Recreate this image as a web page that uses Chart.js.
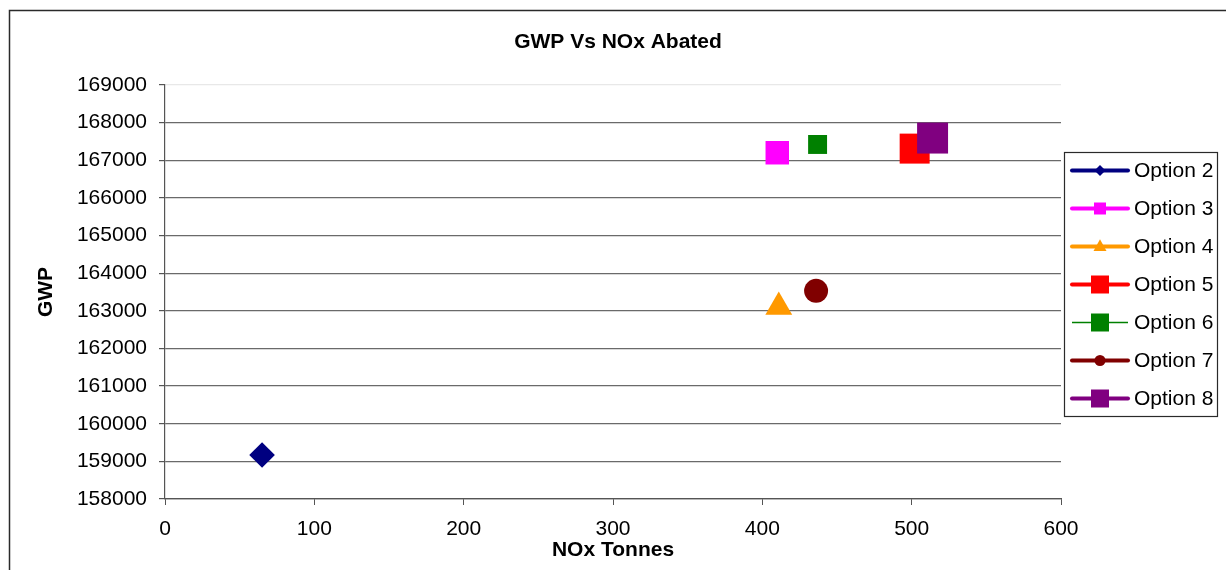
<!DOCTYPE html>
<html>
<head>
<meta charset="utf-8">
<title>GWP Vs NOx Abated</title>
<script src="https://cdn.jsdelivr.net/npm/chart.js@4/dist/chart.umd.min.js"></script>
<style>
  html, body { margin: 0; padding: 0; background: #ffffff; }
  #wrap { width: 1226px; height: 570px; position: relative; }
</style>
</head>
<body>
<div id="wrap"><canvas id="c" width="1226" height="570"></canvas></div>
<script>
// ---- data ----
const chartTitle = 'GWP Vs NOx Abated';
const xTitle = 'NOx Tonnes';
const yTitle = 'GWP';
const optionNames = ['Option 2', 'Option 3', 'Option 4', 'Option 5', 'Option 6', 'Option 7', 'Option 8'];
const noxTonnes = [65, 410, 411, 502, 437, 436, 514];
const gwpValues = [159170, 167200, 163100, 167310, 167420, 163530, 167590];
const xTicks = [0, 100, 200, 300, 400, 500, 600];
const yTicks = [158000, 159000, 160000, 161000, 162000, 163000, 164000, 165000, 166000, 167000, 168000, 169000];

// ---- styles ----
const colors = ['#000080', '#FF00FF', '#FF9900', '#FF0000', '#008000', '#800000', '#800080'];
const shapes = ['rectRot', 'rect', 'triangle', 'rect', 'rect', 'circle', 'rect'];
const radii = [12.8, 16.6, 15.5, 21.2, 13.4, 12, 21.9];
const legendLineWidths = [4, 4, 4, 4, 1.5, 4, 4];
const legendMarkerSizes = [11, 12, 13, 18, 18, 11, 18];
const FONT = "'Liberation Sans', Arial, sans-serif";

// later series are painted over earlier ones
const datasets = optionNames.map((name, i) => ({
  label: name,
  data: [{ x: noxTonnes[i], y: gwpValues[i] }],
  backgroundColor: colors[i],
  borderColor: colors[i],
  borderWidth: 0,
  pointStyle: shapes[i],
  pointRadius: radii[i],
  pointHoverRadius: radii[i],
  pointBorderWidth: 0,
  showLine: false,
  order: optionNames.length - 1 - i
}));

function drawMarker(ctx, shape, x, y, size, color) {
  const h = size / 2;
  ctx.fillStyle = color;
  ctx.beginPath();
  if (shape === 'rect') {
    ctx.rect(x - h, y - h, size, size);
  } else if (shape === 'rectRot') {
    ctx.moveTo(x, y - h); ctx.lineTo(x + h, y); ctx.lineTo(x, y + h); ctx.lineTo(x - h, y);
    ctx.closePath();
  } else if (shape === 'triangle') {
    ctx.moveTo(x, y - h * 1.1); ctx.lineTo(x + h, y + h * 0.7); ctx.lineTo(x - h, y + h * 0.7);
    ctx.closePath();
  } else {
    ctx.arc(x, y, h, 0, Math.PI * 2);
  }
  ctx.fill();
}

// white page with the outer frame
const framePlugin = {
  id: 'frame',
  beforeDraw(chart) {
    const ctx = chart.ctx;
    ctx.save();
    ctx.fillStyle = '#ffffff';
    ctx.fillRect(0, 0, chart.width, chart.height);
    ctx.strokeStyle = '#2a2a2a';
    ctx.lineWidth = 1.5;
    ctx.strokeRect(9.5, 10.5, chart.width + 20, chart.height + 20);
    ctx.restore();
  }
};

// title text above the plot
const titlePlugin = {
  id: 'plotTitle',
  afterDraw(chart) {
    const ctx = chart.ctx;
    ctx.save();
    ctx.font = 'bold 21px ' + FONT;
    ctx.fillStyle = '#000000';
    ctx.textAlign = 'center';
    ctx.textBaseline = 'middle';
    ctx.fillText(chartTitle, 618, 42);
    ctx.restore();
  }
};

// line-and-marker legend box on the right
const legendPlugin = {
  id: 'sideLegend',
  afterDraw(chart) {
    const ctx = chart.ctx;
    const left = 1064.5, top = 152.5, w = 153, h = 264, rowH = 38, firstRow = 170.5;
    ctx.save();
    ctx.fillStyle = '#ffffff';
    ctx.fillRect(left, top, w, h);
    ctx.strokeStyle = '#2a2a2a';
    ctx.lineWidth = 1.2;
    ctx.strokeRect(left, top, w, h);
    chart.data.datasets.forEach((ds, i) => {
      const y = firstRow + i * rowH;
      ctx.strokeStyle = colors[i];
      ctx.lineWidth = legendLineWidths[i];
      ctx.lineCap = legendLineWidths[i] > 2 ? 'round' : 'butt';
      ctx.beginPath();
      ctx.moveTo(1072, y);
      ctx.lineTo(1128, y);
      ctx.stroke();
      drawMarker(ctx, shapes[i], 1100, y, legendMarkerSizes[i], colors[i]);
      ctx.font = '21px ' + FONT;
      ctx.fillStyle = '#000000';
      ctx.textAlign = 'left';
      ctx.textBaseline = 'middle';
      ctx.fillText(ds.label, 1134, y + 1);
    });
    ctx.restore();
  }
};

new Chart(document.getElementById('c'), {
  type: 'scatter',
  data: { datasets },
  plugins: [framePlugin, titlePlugin, legendPlugin],
  options: {
    responsive: false,
    animation: false,
    events: [],
    layout: { padding: { top: 85, right: 165, bottom: 0, left: 0 } },
    plugins: {
      legend: { display: false },
      title: { display: false },
      tooltip: { enabled: false }
    },
    scales: {
      x: {
        type: 'linear',
        min: 0,
        max: 600,
        afterFit(scale) { scale.height = 71; },
        afterBuildTicks(scale) { scale.ticks = xTicks.map(v => ({ value: v })); },
        ticks: {
          color: '#000000',
          font: { family: FONT, size: 21 },
          padding: 12,
          maxRotation: 0,
          autoSkip: false
        },
        grid: {
          drawOnChartArea: false,
          drawTicks: true,
          tickLength: 6,
          tickColor: '#555555'
        },
        border: { display: true, color: '#555555', width: 1.2 },
        title: {
          display: true,
          text: xTitle,
          color: '#000000',
          font: { family: FONT, size: 21, weight: 'bold' },
          padding: { top: 0, bottom: 7 }
        }
      },
      y: {
        type: 'linear',
        min: 158000,
        max: 169000,
        afterFit(scale) { scale.width = 165; },
        afterBuildTicks(scale) { scale.ticks = yTicks.map(v => ({ value: v })); },
        ticks: {
          color: '#000000',
          font: { family: FONT, size: 21 },
          padding: 12,
          autoSkip: false,
          callback: v => String(v)
        },
        grid: {
          color: ctx => (ctx.tick && ctx.tick.value === 169000) ? '#e8e8e8' : '#6a6a6a',
          lineWidth: 1.2,
          drawTicks: true,
          tickLength: 6,
          tickColor: '#555555'
        },
        border: { display: true, color: '#555555', width: 1.2 },
        title: {
          display: true,
          text: yTitle,
          color: '#000000',
          font: { family: FONT, size: 21, weight: 'bold' },
          padding: { top: 34, bottom: 0 }
        }
      }
    }
  }
});
</script>
</body>
</html>
